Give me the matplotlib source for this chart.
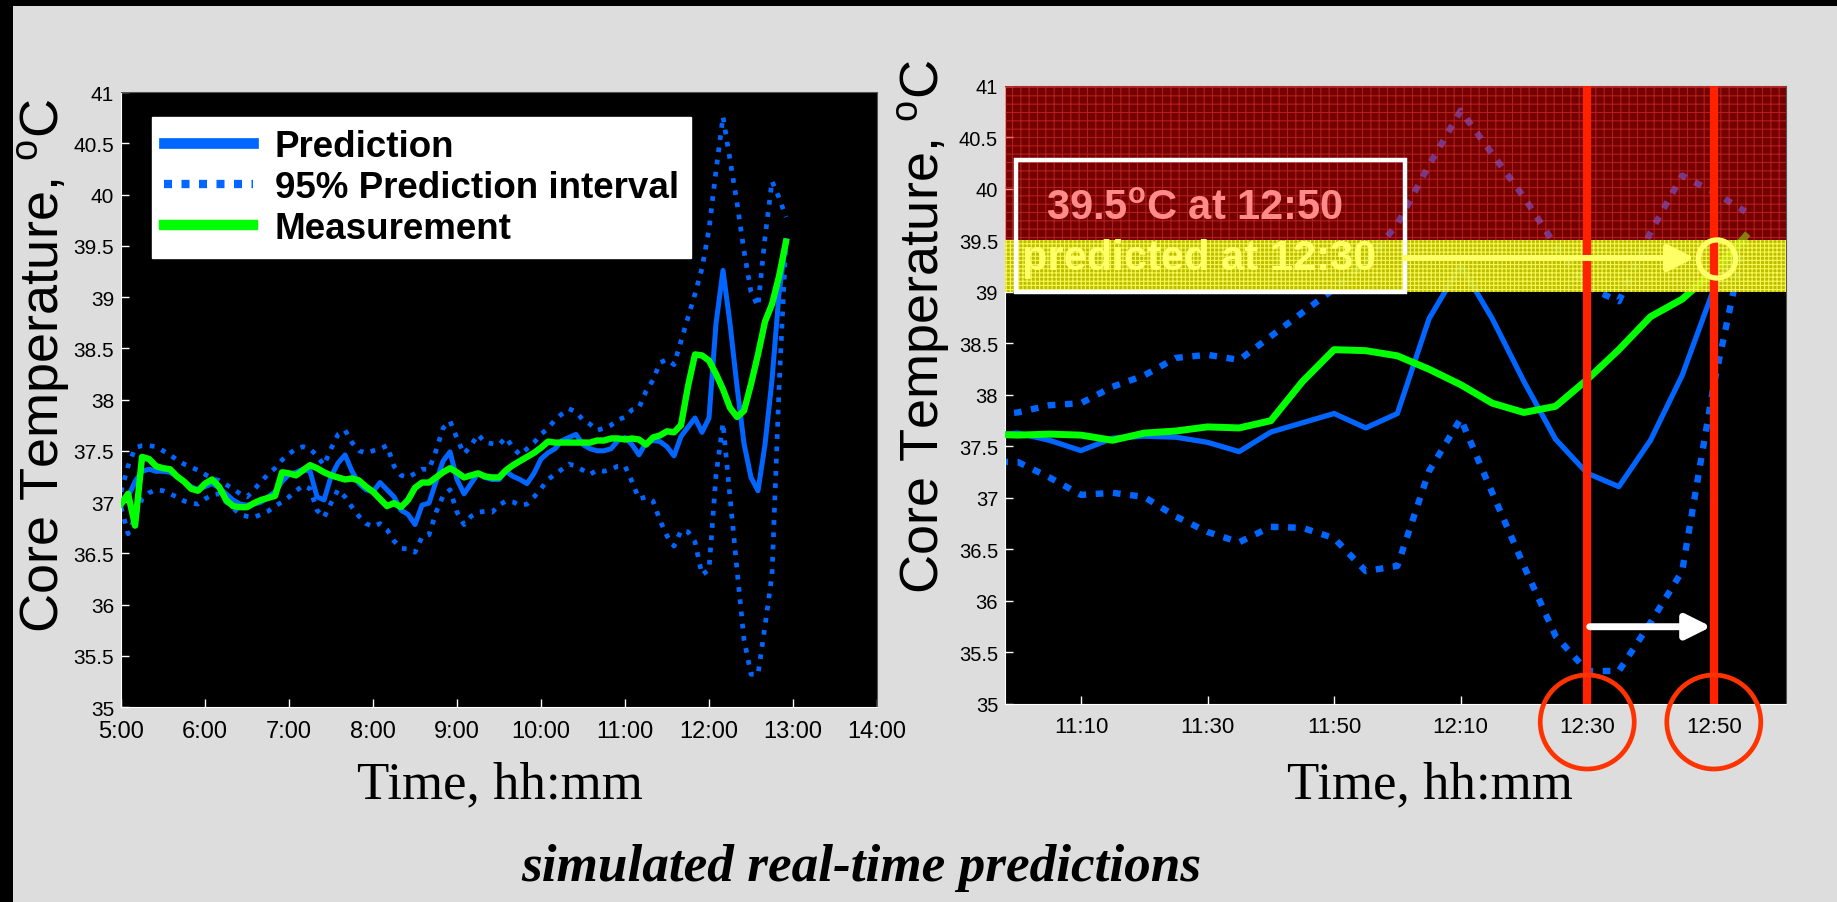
import numpy as np
import matplotlib
matplotlib.use('Agg')
import matplotlib.pyplot as plt
import matplotlib.transforms as mtransforms
from matplotlib.lines import Line2D
from matplotlib.patches import Rectangle, Ellipse

plt.rcParams['font.family'] = ['Liberation Sans', 'DejaVu Sans']
plt.rcParams['mathtext.fontset'] = 'custom'
plt.rcParams['mathtext.rm'] = 'Liberation Sans'
plt.rcParams['mathtext.bf'] = 'Liberation Sans:bold'
plt.rcParams['hatch.linewidth'] = 0.8

# sample times in minutes after midnight, every 5 min from 5:00 to 12:55
minutes = np.arange(300, 780, 5)

measurement = [
    36.98, 37.08, 36.77, 37.44, 37.42, 37.35, 37.33, 37.32, 37.25, 37.20,
    37.13, 37.11, 37.18, 37.22, 37.15, 37.02, 36.96, 36.95, 36.95, 36.99,
    37.02, 37.04, 37.06, 37.29, 37.28, 37.26, 37.31, 37.36, 37.33, 37.29,
    37.26, 37.24, 37.22, 37.23, 37.21, 37.15, 37.10, 37.03, 36.96, 36.99,
    36.95, 37.02, 37.14, 37.19, 37.19, 37.24, 37.29, 37.33, 37.29, 37.24,
    37.26, 37.28, 37.25, 37.24, 37.24, 37.31, 37.36, 37.40, 37.44, 37.48,
    37.53, 37.59, 37.58, 37.58, 37.58, 37.58, 37.58, 37.58, 37.60, 37.60,
    37.62, 37.62,
    37.61, 37.62, 37.61, 37.56, 37.63, 37.65, 37.69, 37.68, 37.75, 38.13,
    38.44, 38.43, 38.38, 38.25, 38.10, 37.92, 37.83, 37.89, 38.15, 38.44,
    38.76, 38.93, 39.20, 39.54,
]
prediction = [
    36.98, 37.05, 37.20, 37.30, 37.32, 37.30, 37.30, 37.29, 37.25, 37.20,
    37.15, 37.12, 37.15, 37.18, 37.14, 37.08, 37.02, 36.98, 36.97, 36.98,
    37.00, 37.05, 37.10, 37.20, 37.27, 37.29, 37.32, 37.30, 37.05, 37.02,
    37.25, 37.38, 37.46, 37.30, 37.18, 37.12, 37.10, 37.19, 37.12, 37.05,
    36.92, 36.88, 36.78, 36.97, 36.99, 37.20, 37.40, 37.49, 37.22, 37.08,
    37.18, 37.28, 37.24, 37.22, 37.22, 37.30, 37.25, 37.22, 37.18, 37.28,
    37.42, 37.48, 37.52, 37.60, 37.63, 37.66, 37.56, 37.52, 37.50, 37.50,
    37.52, 37.60,
    37.63, 37.56, 37.46, 37.58, 37.60, 37.59, 37.54, 37.45, 37.64, 37.73,
    37.82, 37.68, 37.82, 38.74, 39.26, 38.74, 38.13, 37.57, 37.24, 37.11,
    37.56, 38.19, 39.03, 39.55,
]
pi_upper = [
    37.10, 37.35, 37.53, 37.55, 37.55, 37.54, 37.50, 37.46, 37.41, 37.37,
    37.34, 37.31, 37.27, 37.23, 37.21, 37.17, 37.13, 37.08, 37.05, 37.12,
    37.20, 37.27, 37.33, 37.41, 37.47, 37.52, 37.54, 37.52, 37.45, 37.36,
    37.52, 37.66, 37.70, 37.58, 37.50, 37.48, 37.50, 37.52, 37.55, 37.35,
    37.26, 37.24, 37.28, 37.32, 37.32, 37.50, 37.72, 37.79, 37.62, 37.47,
    37.55, 37.66, 37.58, 37.57, 37.56, 37.63, 37.53, 37.46, 37.52, 37.58,
    37.66, 37.72, 37.80, 37.86, 37.91, 37.88, 37.80, 37.76, 37.70, 37.72,
    37.75, 37.80,
    37.83, 37.90, 37.92, 38.08, 38.19, 38.36, 38.39, 38.34, 38.57, 38.80,
    39.03, 39.28, 39.66, 40.23, 40.76, 40.34, 39.92, 39.45, 39.05, 38.91,
    39.58, 40.13, 39.97, 39.78,
]
pi_lower = [
    36.95, 36.69, 36.85, 37.03, 37.09, 37.12, 37.11, 37.08, 37.05, 37.01,
    36.99, 36.98, 37.03, 37.07, 37.08, 37.00, 36.94, 36.88, 36.86, 36.85,
    36.88, 36.91, 36.96, 37.00, 37.05, 37.11, 37.16, 37.13, 36.92, 36.85,
    36.99, 37.12, 37.05, 36.95, 36.86, 36.79, 36.76, 36.79, 36.73, 36.62,
    36.55, 36.54, 36.51, 36.66, 36.68, 36.90, 37.06, 37.12, 36.90, 36.78,
    36.86, 36.90, 36.91, 36.90, 36.97, 37.01, 37.00, 36.97, 36.98, 37.05,
    37.13, 37.22, 37.27, 37.32, 37.37, 37.35, 37.31, 37.27, 37.31, 37.30,
    37.32, 37.35,
    37.35, 37.20, 37.03, 37.05, 37.01, 36.82, 36.67, 36.57, 36.72, 36.71,
    36.61, 36.29, 36.34, 37.26, 37.77, 37.05, 36.34, 35.66, 35.32, 35.32,
    35.79, 36.29, 38.10, 39.55,
]

left_xticks = ['5:00', '6:00', '7:00', '8:00', '9:00', '10:00', '11:00',
               '12:00', '13:00', '14:00']
right_xticks = ['11:10', '11:30', '11:50', '12:10', '12:30', '12:50']
y_ticks = [35, 35.5, 36, 36.5, 37, 37.5, 38, 38.5, 39, 39.5, 40, 40.5, 41]

alarm_level = 39.5     # red zone from here up
warn_level = 39.0      # yellow zone
pred_time = '12:30'
target_time = '12:50'

BLUE = '#0066ff'
GREEN = '#00ff00'
BG = '#dddddd'


def to_min(s):
    h, m = s.split(':')
    return int(h) * 60 + int(m)


def style_axes(ax, xlabels, xsize, ysize):
    ax.set_facecolor('black')
    ax.set_ylim(35, 41)
    ax.set_yticks(y_ticks)
    ax.set_yticklabels([f'{v:g}' for v in y_ticks], fontsize=ysize)
    ax.set_xticks([to_min(s) for s in xlabels])
    ax.set_xticklabels(xlabels, fontsize=xsize)
    ax.tick_params(axis='both', direction='in', color='white', length=6,
                   width=1, labelcolor='black')
    ax.tick_params(axis='x', pad=9)
    ax.tick_params(axis='y', pad=5)
    ax.spines['left'].set_color('white')
    ax.spines['bottom'].set_color('white')
    ax.spines['top'].set_color('#555555')
    ax.spines['right'].set_color('#555555')


fig = plt.figure(figsize=(18.37, 9.03), dpi=100, facecolor=BG)
# black slide edges (top and left)
fig.add_artist(Rectangle((0, 1 - 7 / 903), 1, 7 / 903, transform=fig.transFigure,
                         color='black', lw=0))
fig.add_artist(Rectangle((0, 0), 13 / 1837, 1, transform=fig.transFigure,
                         color='black', lw=0))

ax1 = fig.add_axes([0.0659, 0.2159, 0.4115, 0.6811])
ax2 = fig.add_axes([0.5471, 0.2193, 0.4251, 0.6844])

# ---- left: whole day ----
style_axes(ax1, left_xticks, 17, 15)
ax1.set_xlim(300, 840)
dot_l = (0, (1, 1.6))
ax1.plot(minutes, pi_upper, color=BLUE, lw=3.4, ls=dot_l, zorder=2)
ax1.plot(minutes, pi_lower, color=BLUE, lw=3.4, ls=dot_l, zorder=2)
ax1.plot(minutes, prediction, color=BLUE, lw=3.6, zorder=3)
ax1.plot(minutes, measurement, color=GREEN, lw=4.6, zorder=4)

handles = [
    Line2D([], [], color=BLUE, lw=7.7),
    Line2D([], [], color=BLUE, lw=6, ls=(0, (0.96, 1.14))),
    Line2D([], [], color=GREEN, lw=7.5),
]
leg = ax1.legend(handles, ['Prediction', '95% Prediction interval', 'Measurement'],
                 loc='upper left', bbox_to_anchor=(0.041, 0.96), borderaxespad=0,
                 fancybox=False, framealpha=1, facecolor='white', edgecolor='white',
                 prop={'family': 'Liberation Sans', 'weight': 'bold', 'size': 26.5},
                 handlelength=2.4, handletextpad=0.6, labelspacing=0.17,
                 borderpad=0.33)
leg.set_zorder(10)

# ---- right: last two hours with alarm zones ----
style_axes(ax2, right_xticks, 16, 14.5)
ax2.set_xlim(658, 781.4)
dot_r = (0, (1.2, 1.5))
ax2.plot(minutes, pi_upper, color=BLUE, lw=4.6, ls=dot_r, zorder=2)
ax2.plot(minutes, pi_lower, color=BLUE, lw=4.6, ls=dot_r, zorder=2)
ax2.plot(minutes, prediction, color=BLUE, lw=3.8, zorder=3)
ax2.plot(minutes, measurement, color=GREEN, lw=5, zorder=3)

ax2.axhspan(alarm_level, 41, facecolor='#ff0000', edgecolor='#ff4040', hatch='++',
            linewidth=0, alpha=0.46, zorder=4)
ax2.axhspan(warn_level, alarm_level, facecolor='#dada00', edgecolor='#ffff60',
            hatch='++++', linewidth=0, alpha=0.88, zorder=4)

tp, tt = to_min(pred_time), to_min(target_time)
for t in (tp, tt):
    ax2.axvline(t, color='#ff2200', lw=6, zorder=5)

ax2.add_patch(Rectangle((659.7, warn_level), 61.5, 1.28, fill=False,
                        edgecolor='white', lw=3.2, zorder=6))
ax2.text(664.5, 39.71, '39.5$^{\\mathbf{o}}$C at 12:50', color='#ff8a8a',
         fontsize=30, fontweight='bold', ha='left', va='baseline', zorder=7)
ax2.text(660.7, 39.22, 'predicted at 12:30', color='#ffff66', fontsize=30,
         fontweight='bold', ha='left', va='baseline', zorder=7)

ax2.annotate('', xy=(767, 39.33), xytext=(721.2, 39.33),
             arrowprops=dict(arrowstyle='-|>,head_length=1,head_width=0.5',
                             mutation_scale=16, lw=4.3, color='#ffff66',
                             shrinkA=0, shrinkB=0), zorder=7)
ax2.add_patch(Ellipse((770.5, 39.32), 5.9, 0.37, fill=False, edgecolor='#ffff66',
                      lw=3.8, zorder=7))
ax2.annotate('', xy=(769.6, 35.75), xytext=(750.4, 35.75),
             arrowprops=dict(arrowstyle='-|>,head_length=1,head_width=0.5',
                             mutation_scale=15, lw=5, color='white',
                             shrinkA=0, shrinkB=0), zorder=7)

# circles around the two tick labels
blend = mtransforms.blended_transform_factory(ax2.transData, fig.transFigure)
for t in (tp, tt):
    fig.add_artist(Ellipse((t, 1 - 723 / 903), 14.85, 94 / 903, transform=blend,
                           fill=False, edgecolor='#ff3300', lw=3.4, clip_on=False))

# ---- texts ----
ylab = 'Core Temperature, $^{\\mathrm{o}}$C'
fig.text(44 / 1837, 1 - 366 / 903, ylab, rotation=90, fontsize=39,
         ha='center', va='center')
fig.text(923 / 1837, 1 - 327 / 903, ylab, rotation=90, fontsize=39,
         ha='center', va='center')
for xc in (500, 1430):
    fig.text(xc / 1837, 1 - 798 / 903, 'Time, hh:mm', fontsize=38,
             family='Liberation Serif', ha='center', va='baseline')
fig.text(861 / 1837, 1 - 881 / 903, 'simulated real-time predictions', fontsize=38.3,
         family='Liberation Serif', style='italic', weight='bold',
         ha='center', va='baseline')

fig.savefig('out.png', dpi=100, facecolor=BG)
